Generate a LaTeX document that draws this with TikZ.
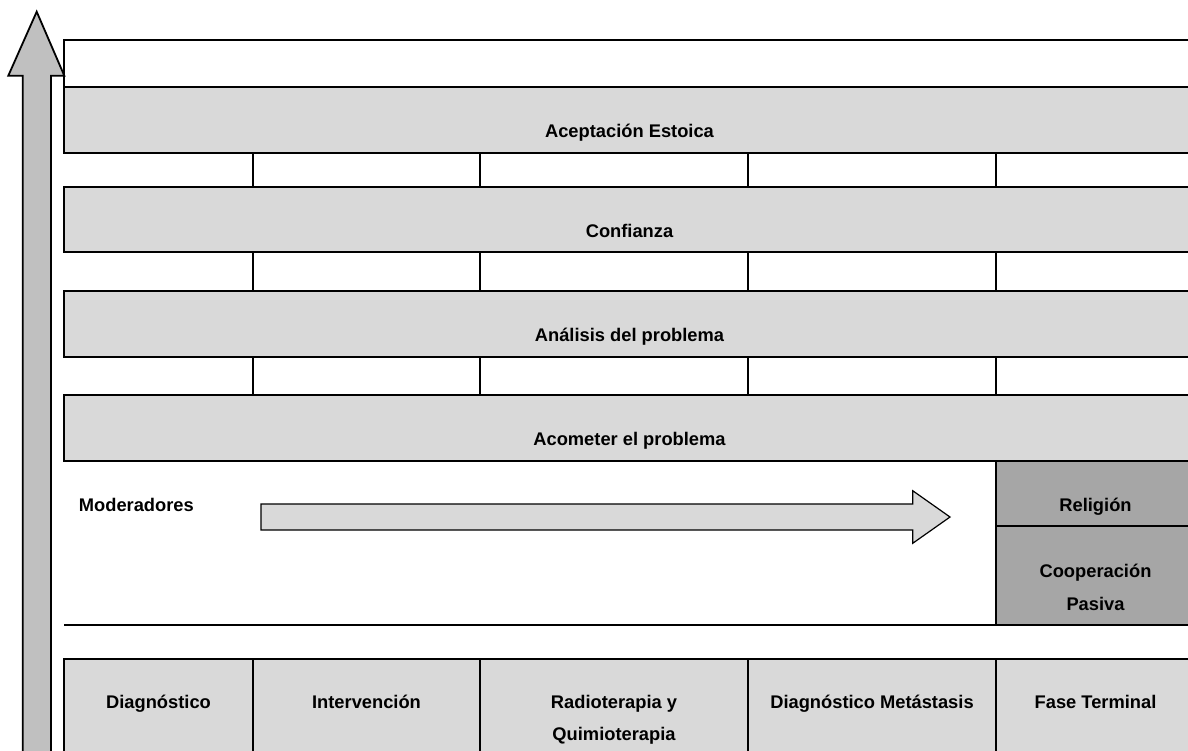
\documentclass[tikz,border=0pt]{standalone}
\usepackage{fontspec}
\setmainfont{Liberation Sans}
\definecolor{bandgray}{HTML}{D9D9D9}
\definecolor{shaftgray}{HTML}{C0C0C0}
\definecolor{modgray}{HTML}{A6A6A6}

\begin{document}
\begin{tikzpicture}[x=1pt,y=-1pt,line width=1.8pt,
		box/.style={draw,inner sep=0pt,outer sep=0pt,anchor=north west},
		band/.style={box,fill=bandgray,minimum width=1131pt},
		lbl/.style={font=\bfseries\fontsize{18.3}{32.6}\selectfont,inner sep=0pt,anchor=base,align=center}]
			\clip (0,0) rectangle (1188,750);
			\node[box,minimum width=1131pt,minimum height=47pt] (toprow) at (64,40) {};
			\node[band,minimum height=66pt] (acept) at (64,87) {};
			\node[lbl] (aceptT) at ([yshift=-50pt]acept.north) {Aceptación Estoica};
			\node[band,minimum height=65pt] (conf) at (64,187) {};
			\node[lbl] (confT) at ([yshift=-50pt]conf.north) {Confianza};
			\node[band,minimum height=66pt] (anal) at (64,291) {};
			\node[lbl] (analT) at ([yshift=-50pt]anal.north) {Análisis del problema};
			\node[band,minimum height=66pt] (acom) at (64,395) {};
			\node[lbl] (acomT) at ([yshift=-50pt]acom.north) {Acometer el problema};
			\foreach \a/\b in {acept/conf,conf/anal,anal/acom}
				\foreach \x in {253,480,748,996}
					\draw (\a.south -| \x,0) -- (\b.north -| \x,0);
			\node[lbl,anchor=base west] (moder) at (78,511.5) {Moderadores};
			\draw[line width=1.2pt,fill=bandgray] (261,504) -- (912.7,504) -- (912.7,490.7) -- (950,517) -- (912.7,543.3) -- (912.7,530) -- (261,530) -- cycle;
			\node[box,fill=modgray,minimum width=199pt,minimum height=65pt] (relig) at (996,461) {};
			\node[lbl] (religT) at ([yshift=-50.5pt]relig.north) {Religión};
			\node[box,fill=modgray,minimum width=199pt,minimum height=99pt] (coop) at (996,526) {};
			\node[lbl] (coopT) at ([yshift=-84.1pt]coop.north) {Cooperación\\Pasiva};
			\draw (64,625) -- (coop.south west);
			\node[box,fill=bandgray,minimum width=189pt,minimum height=111pt] (diag) at (64,659) {};
			\node[box,fill=bandgray,minimum width=227pt,minimum height=111pt] (interv) at (253,659) {};
			\node[box,fill=bandgray,minimum width=268pt,minimum height=111pt] (radio) at (480,659) {};
			\node[box,fill=bandgray,minimum width=248pt,minimum height=111pt] (meta) at (748,659) {};
			\node[box,fill=bandgray,minimum width=199pt,minimum height=111pt] (fase) at (996,659) {};
			\node[lbl] (diagT) at ([yshift=-49pt]diag.north) {Diagnóstico};
			\node[lbl] (intervT) at ([yshift=-49pt]interv.north) {Intervención};
			\node[lbl] (radioT) at ([yshift=-81.6pt]radio.north) {Radioterapia y\\Quimioterapia};
			\node[lbl] (metaT) at ([yshift=-49pt]meta.north) {Diagnóstico Metástasis};
			\node[lbl] (faseT) at ([yshift=-49pt]fase.north) {Fase Terminal};
			\draw[fill=shaftgray] (22.7,770) -- (22.7,75.7) -- (8.3,75.7) -- (36.7,11.7) -- (64.3,75.7) -- (51,75.7) -- (51,770) -- cycle;
		\end{tikzpicture}
\end{document}
